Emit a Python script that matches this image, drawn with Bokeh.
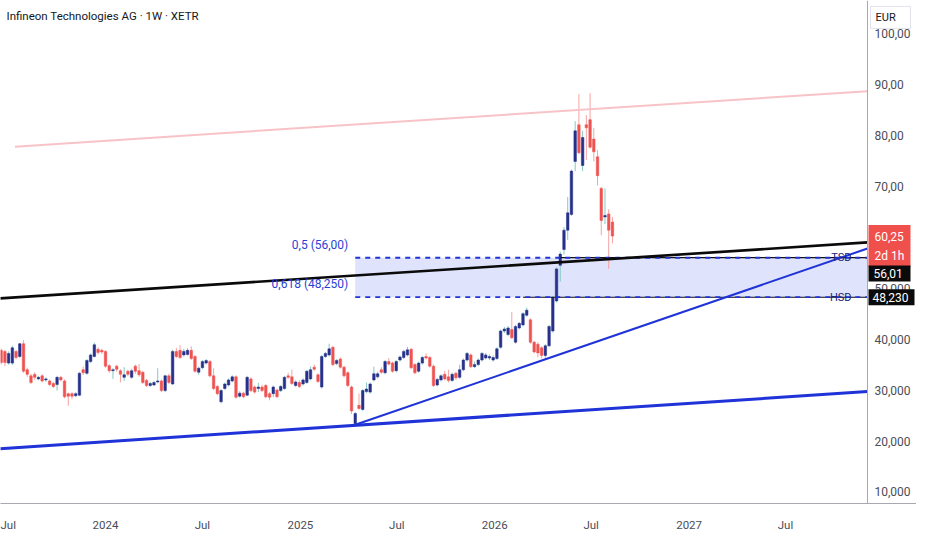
import pandas as pd
from bokeh.plotting import figure
from bokeh.models import Range1d, FixedTicker, Label, ColumnDataSource
from bokeh.embed import file_html
from bokeh.resources import INLINE
from bokeh.core.properties import value

# ---------------- data (weekly candles, EUR) ----------------
first_week = "2023-06-19"
opens = [37.8, 37.6, 35.3, 35.3, 37.6, 36.6, 39.1, 34.0, 32.8, 33.1,
         32.2, 32.8, 32.0, 31.8, 31.3, 31.1, 32.5, 31.8, 29.3, 29.3,
         28.9, 29.0, 34.0, 33.3, 35.6, 36.6, 38.0, 37.8, 37.6, 34.8,
         33.8, 34.7, 33.8, 32.5, 33.7, 32.5, 34.7, 33.8, 33.5, 31.9,
         30.9, 31.0, 31.6, 31.8, 29.9, 32.8, 31.2, 37.6, 37.8, 36.9,
         37.0, 37.8, 36.6, 33.5, 34.4, 35.3, 35.6, 32.8, 30.7, 27.7,
         30.3, 31.0, 31.8, 32.6, 28.8, 29.4, 29.0, 32.2, 30.6, 30.3,
         30.6, 30.9, 29.3, 29.3, 30.0, 29.9, 30.3, 32.8, 32.6, 30.9,
         31.5, 31.2, 31.5, 32.2, 34.5, 33.0, 30.6, 36.6, 36.9, 38.4,
         35.2, 36.1, 34.5, 33.4, 30.6, 23.4, 27.0, 26.2, 29.7, 29.6,
         32.0, 32.6, 34.0, 33.4, 35.6, 35.3, 33.8, 35.9, 36.4, 36.9,
         38.0, 35.0, 33.7, 35.3, 36.6, 36.4, 34.7, 31.0, 32.0, 33.1,
         32.6, 31.9, 33.3, 32.5, 34.0, 35.9, 36.9, 34.6, 35.0, 35.9,
         36.3, 36.3, 35.9, 36.2, 38.4, 41.6, 40.9, 41.9, 39.4, 42.2,
         42.8, 44.7, 43.8, 39.4, 39.0, 38.3, 36.8, 38.7, 41.6, 47.5,
         54.5, 57.6, 61.4, 64.5, 74.9, 82.1, 74.1, 82.1, 83.1, 79.3,
         75.8, 69.6, 64.0, 64.6, 63.0]
highs = [38.2, 37.9, 37.6, 38.7, 37.9, 39.3, 39.8, 34.4, 33.2, 33.5,
         32.8, 33.1, 32.5, 32.1, 31.6, 32.8, 32.8, 32.1, 29.5, 29.6,
         29.6, 33.6, 34.6, 36.1, 37.2, 39.3, 38.4, 38.1, 37.8, 35.1,
         34.3, 35.0, 34.1, 34.5, 34.0, 34.2, 35.0, 35.1, 33.8, 32.2,
         31.6, 31.8, 34.3, 32.1, 33.0, 33.2, 37.9, 38.3, 38.8, 38.1,
         38.2, 38.6, 36.9, 34.6, 35.9, 36.1, 35.9, 34.3, 31.0, 30.2,
         31.5, 32.3, 32.9, 32.9, 29.8, 29.7, 32.8, 32.5, 30.9, 31.4,
         31.0, 31.2, 29.6, 30.9, 30.3, 31.0, 32.8, 33.4, 34.0, 31.9,
         31.9, 32.3, 34.0, 34.6, 35.0, 33.3, 36.9, 37.5, 39.1, 38.7,
         36.1, 36.4, 34.8, 33.7, 30.9, 25.7, 29.3, 30.2, 31.5, 31.5,
         34.6, 33.6, 34.5, 35.9, 36.3, 35.6, 35.9, 36.8, 37.9, 38.5,
         38.3, 35.3, 35.6, 36.7, 37.2, 36.7, 35.0, 32.4, 33.1, 33.8,
         34.0, 33.4, 33.6, 35.0, 36.2, 37.5, 37.2, 35.6, 36.2, 37.5,
         37.3, 37.0, 36.8, 38.4, 41.9, 42.4, 42.6, 45.3, 42.8, 43.4,
         45.3, 46.2, 44.1, 39.7, 39.4, 38.6, 39.0, 42.8, 48.5, 54.1,
         57.2, 62.0, 67.9, 73.3, 82.8, 88.1, 80.9, 84.0, 88.3, 81.5,
         77.1, 69.9, 69.6, 65.5, 64.0]
lows = [35.0, 34.7, 35.0, 34.9, 36.0, 36.3, 33.4, 32.6, 31.2, 32.0,
        31.9, 31.5, 31.6, 30.8, 30.4, 29.9, 31.7, 28.4, 26.9, 28.2,
        28.6, 28.8, 33.0, 33.0, 35.3, 36.4, 37.0, 37.1, 34.4, 33.4,
        32.2, 33.6, 31.5, 31.8, 32.7, 32.2, 33.2, 32.6, 31.2, 30.6,
        30.6, 30.8, 31.3, 29.6, 29.6, 31.2, 31.0, 36.3, 36.1, 36.6,
        36.8, 35.9, 33.4, 33.0, 34.1, 35.0, 32.5, 30.0, 29.0, 27.4,
        30.0, 30.7, 31.5, 28.3, 28.5, 28.4, 28.8, 29.6, 29.3, 29.6,
        29.6, 28.4, 28.0, 28.6, 28.4, 29.6, 30.0, 32.2, 31.0, 30.6,
        30.4, 30.9, 31.2, 31.9, 33.8, 31.4, 30.3, 36.3, 36.6, 34.7,
        34.9, 34.2, 32.5, 30.6, 25.3, 23.2, 26.1, 25.9, 29.4, 29.3,
        31.7, 32.3, 33.2, 33.1, 34.8, 33.4, 33.5, 35.6, 36.1, 36.6,
        34.1, 33.1, 33.4, 35.0, 36.0, 34.4, 30.6, 30.7, 31.7, 31.9,
        31.5, 31.6, 32.0, 32.2, 33.7, 35.6, 34.3, 34.3, 34.7, 35.6,
        36.0, 35.9, 35.6, 35.9, 38.1, 41.2, 40.6, 40.0, 39.1, 41.9,
        42.5, 44.4, 39.1, 37.2, 36.4, 36.2, 35.9, 38.4, 41.3, 47.2,
        51.3, 56.6, 59.5, 64.2, 73.0, 76.3, 73.0, 75.2, 77.4, 74.9,
        70.2, 60.4, 62.6, 53.8, 58.8]
closes = [35.4, 35.4, 37.2, 38.3, 36.4, 39.1, 33.7, 33.1, 31.5, 32.5,
          32.5, 31.8, 32.2, 31.1, 30.7, 32.5, 32.0, 28.7, 28.8, 28.8,
          29.3, 33.3, 33.4, 35.8, 36.9, 38.9, 37.4, 37.5, 34.7, 33.8,
          34.0, 34.1, 33.1, 33.0, 33.1, 33.8, 33.7, 33.0, 31.5, 30.9,
          31.3, 31.5, 31.8, 29.9, 32.8, 31.5, 37.6, 36.6, 36.4, 37.6,
          37.8, 36.2, 33.7, 34.3, 35.6, 35.8, 32.8, 30.3, 29.3, 29.9,
          31.2, 32.0, 32.6, 28.6, 29.4, 28.7, 32.5, 29.9, 29.6, 30.6,
          29.9, 28.7, 28.6, 30.6, 28.7, 30.7, 32.5, 32.5, 31.3, 31.6,
          30.7, 32.0, 33.7, 34.0, 34.1, 31.7, 36.6, 37.2, 38.1, 35.0,
          35.8, 34.5, 32.8, 30.9, 25.9, 25.4, 26.4, 29.9, 30.2, 31.2,
          33.2, 33.2, 33.5, 35.6, 35.1, 33.7, 35.6, 36.5, 37.6, 37.9,
          34.4, 33.4, 35.3, 36.4, 36.3, 34.7, 30.9, 32.1, 32.8, 32.2,
          31.9, 33.1, 32.4, 34.0, 35.9, 37.2, 34.6, 35.0, 35.9, 37.2,
          36.9, 36.6, 36.4, 38.1, 41.6, 42.0, 42.2, 40.3, 42.5, 43.1,
          45.0, 45.7, 39.4, 37.5, 37.3, 36.8, 38.7, 42.5, 48.2, 53.8,
          56.7, 61.4, 64.8, 73.0, 80.9, 76.6, 79.6, 81.5, 77.7, 76.8,
          72.1, 63.3, 64.3, 61.4, 60.25]

y_ticks = [10, 20, 30, 40, 50, 60, 70, 80, 90, 100]
y_tick_labels = ["10,000", "20,000", "30,000", "40,000", "50,000",
                 "60,00", "70,00", "80,00", "90,00", "100,00"]
x_tick_dates = ["2023-07-01", "2024-01-01", "2024-07-01", "2025-01-01", "2025-07-01",
                "2026-01-01", "2026-07-01", "2027-01-01", "2027-07-01"]
x_tick_labels = ["Jul", "2024", "Jul", "2025", "Jul", "2026", "Jul", "2027", "Jul"]

# drawn trend lines: (dates, prices)
pink_dates, pink_prices = ["2023-07-15", "2027-12-02"], [77.8, 88.7]
black_dates, black_prices = ["2023-06-17", "2027-12-02"], [48.0, 59.0]
base_dates, base_prices = ["2023-06-17", "2027-12-02"], [18.5, 29.7]
low_index = 95                      # April 2025 low, anchor of rising trend line
rise_end_date, rise_end_price = "2027-12-02", 57.8

fib_levels = [56.00, 48.25]
fib_labels = ["0,5 (56,00)", "0,618 (48,250)"]
level_prices = [56.01, 48.23]
level_names = ["TSD", "HSD"]
level_badges = ["56,01", "48,230"]
level_start_index = [150, 140]
last_price_text = "60,25"
countdown_text = "2d 1h"
currency = "EUR"
title_text = "Infineon Technologies AG · 1W · XETR"

# ---------------- layout ----------------
W, H = 916, 534
PRICE_COL = 49                     # width of the price scale column
AX_B = 29
PLOT_W, FRAME_H = W - PRICE_COL, H - AX_B
X_START = pd.Timestamp("2023-06-17 18:00")
X_END = pd.Timestamp("2027-12-02")     # where the price scale begins
Y_START, Y_END = 7.73, 106.5


def ms(d):
    return pd.Timestamp(d).value / 1e6


dates = pd.date_range(first_week, periods=len(closes), freq="7D")
xs = [ms(d) for d in dates]
x0, x1 = ms(X_START), ms(X_END)
mpp = (x1 - x0) / PLOT_W                # ms per pixel
vpp = (Y_END - Y_START) / FRAME_H       # price per pixel
week_ms = 7 * 24 * 3600 * 1000

UP, DOWN = "#27318b", "#ef5350"
UP_WICK, DOWN_WICK = "#86c9c2", "#f4a3a3"
BLUE = "#1f33d8"
TXT_BLUE = "#2b3fd4"
AXIS_GREY = "#a6a9b2"
LABEL_GREY = "#4a4d57"
FONT = "Roboto"

up = [c >= o for o, c in zip(opens, closes)]
src = ColumnDataSource(dict(
    x=xs, open=opens, close=closes, high=highs, low=lows,
    top=[max(o, c) for o, c in zip(opens, closes)],
    bottom=[min(o, c) for o, c in zip(opens, closes)],
    body=[UP if u else DOWN for u in up],
    wick=[UP_WICK if u else DOWN_WICK for u in up],
))

p = figure(width=W, height=H, output_backend="svg", toolbar_location=None,
           x_range=Range1d(x0, x0 + W * mpp), y_range=Range1d(Y_START, Y_END),
           y_axis_location=None,
           min_border_left=0, min_border_top=0, min_border_right=0,
           min_border_bottom=AX_B)
p.grid.visible = False
p.outline_line_color = None
p.background_fill_color = "white"
p.border_fill_color = "white"

# fib zone
zone_left = xs[low_index]
p.quad(left=[zone_left], right=[x1], bottom=[fib_levels[1]], top=[fib_levels[0]],
       fill_color="#dfe3fb", line_color=None)

# candles
p.segment(x0="x", y0="low", x1="x", y1="high", color="wick", line_width=1, source=src)
p.vbar(x="x", width=0.68 * week_ms, top="top", bottom="bottom",
       fill_color="body", line_color="body", line_width=0.5, source=src)

# horizontal level lines (black) and fib dashed lines
for price, si in zip(level_prices, level_start_index):
    p.line([xs[si], x1], [price, price], line_color="#111111", line_width=1.2)
for lev in fib_levels:
    p.line([zone_left, x1], [lev, lev], line_color=BLUE, line_width=1.9, line_dash="5 5")

# trend lines
p.line([ms(d) for d in pink_dates], pink_prices, line_color="#f7c3c7", line_width=2)
p.line([ms(d) for d in black_dates], black_prices, line_color="#0a0a0a", line_width=2.6)
p.line([ms(d) for d in base_dates], base_prices, line_color=BLUE, line_width=3)
p.line([xs[low_index], ms(rise_end_date)], [lows[low_index], rise_end_price],
       line_color=BLUE, line_width=2)

# texts on the chart
p.text(x=[zone_left] * 2, y=fib_levels, text=fib_labels, text_align="right",
       text_baseline="bottom", x_offset=-7, y_offset=-6, text_color=TXT_BLUE,
       text_font=value(FONT), text_font_size="12px")
p.text(x=[x1 - 16 * mpp] * 2, y=level_prices, text=level_names, text_align="right",
       text_baseline="middle", text_color="#1b2470", text_font=value(FONT),
       text_font_size="11px")

# ---- price scale column (right) ----
p.segment(x0=[x1], y0=[Y_START], x1=[x1], y1=[Y_END], line_color=AXIS_GREY, line_width=1)
p.text(x=[x1] * len(y_ticks), y=y_ticks, text=y_tick_labels, x_offset=7,
       text_align="left", text_baseline="middle", text_color=LABEL_GREY,
       text_font=value(FONT), text_font_size="12px")

# currency box at the top of the scale
p.rect(x=[x1 + 23 * mpp], y=[Y_END - 17 * vpp], width=40, height=22,
       width_units="screen", height_units="screen",
       fill_color="white", line_color="#e0e3eb", line_width=1)
p.text(x=[x1 + 8 * mpp], y=[Y_END - 17 * vpp], text=[currency], text_align="left",
       text_baseline="middle", text_color="#131722", text_font=value(FONT),
       text_font_size="11px")

# last price badge (two lines) and level badges
last = closes[-1]
p.rect(x=[x1 + 22 * mpp], y=[last - 10 * vpp], width=42, height=42,
       width_units="screen", height_units="screen", fill_color="#f0504c", line_color=None)
p.text(x=[x1 + 7 * mpp] * 2, y=[last, last - 20 * vpp], text=[last_price_text, countdown_text],
       text_align="left", text_baseline="middle", text_color="white",
       text_font=value(FONT), text_font_size="12px")
badge_y = [level_prices[0] - 16 * vpp, level_prices[1]]
p.rect(x=[x1 + 22 * mpp, x1 + 24 * mpp], y=badge_y, width=[42, 46], height=16,
       width_units="screen", height_units="screen", fill_color="#0b0b0b", line_color=None)
p.text(x=[x1 + 6 * mpp, x1 + 5 * mpp], y=badge_y, text=level_badges,
       text_align="left", text_baseline="middle", text_color="white",
       text_font=value(FONT), text_font_size="12px")

# ---- time axis ----
x_ticks = [ms(d) for d in x_tick_dates]
ax = p.xaxis[0]
ax.ticker = FixedTicker(ticks=x_ticks)
ax.major_label_overrides = {t: s for t, s in zip(x_ticks, x_tick_labels)}
ax.axis_line_color = AXIS_GREY
ax.major_tick_line_color = None
ax.minor_tick_line_color = None
ax.major_label_text_color = LABEL_GREY
ax.major_label_text_font = FONT
ax.major_label_text_font_size = "11.5px"
ax.major_label_standoff = 8

# title
p.add_layout(Label(x=6, y=FRAME_H - 17, x_units="screen", y_units="screen", text=title_text,
                   text_font=FONT, text_font_size="11.5px", text_color="#131722",
                   text_baseline="middle"))

open("out.html", "w").write(file_html(p, INLINE))
